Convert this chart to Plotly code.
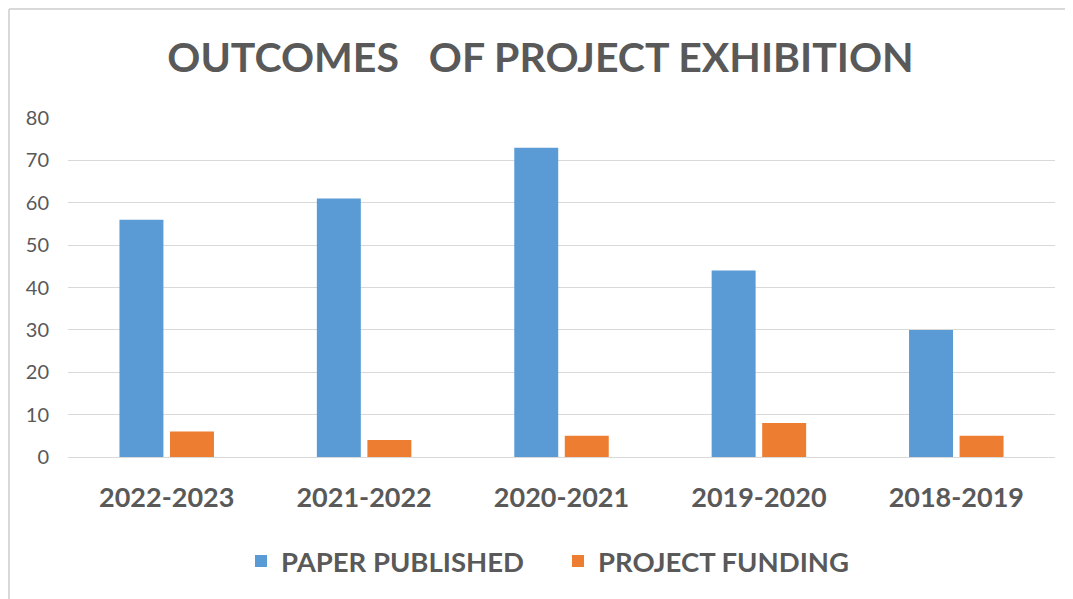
import plotly.graph_objects as go

categories = ["2022-2023", "2021-2022", "2020-2021", "2019-2020", "2018-2019"]
paper_published = [56, 61, 73, 44, 30]
project_funding = [6, 4, 5, 8, 5]
y_ticks = [0, 10, 20, 30, 40, 50, 60, 70, 80]

TXT = "#595959"
FONT = "Lato"

fig = go.Figure()
fig.add_trace(go.Bar(x=categories, y=paper_published, name="PAPER PUBLISHED",
                     marker=dict(color="#5B9BD5", line=dict(width=0))))
fig.add_trace(go.Bar(x=categories, y=project_funding, name="PROJECT FUNDING",
                     marker=dict(color="#ED7D31", line=dict(width=0))))

# page has an 8px body margin; figure coords = reference coords - 8
OFF = 8
W, H = 1073 - OFF, 599 - OFF
L, T = 68 - OFF, 118 - OFF
R = W - (1055 - OFF)
B = H - (457 - OFF)
pw, ph = W - L - R, H - T - B

def fx(px):
    return (px - OFF - L) / pw

def fy(py):
    return 1 - (py - OFF - T) / ph

fig.update_layout(
    width=W, height=H,
    margin=dict(l=L, r=R, t=T, b=B),
    paper_bgcolor="white", plot_bgcolor="white",
    barmode="group", bargap=0.488, bargroupgap=0.13,
    title=dict(text="<b>OUTCOMES   OF PROJECT EXHIBITION</b>", x=0.5, xanchor="center",
               y=1 - (58 - OFF) / H, yanchor="middle",
               font=dict(family=FONT, size=41, color=TXT)),
    font=dict(family=FONT, color=TXT),
    legend=dict(orientation="h", x=fx(558), xanchor="center",
                y=fy(561), yanchor="middle",
                font=dict(family=FONT, size=27.5, color=TXT, weight="bold"),
                itemwidth=30, entrywidth=272, bgcolor="rgba(0,0,0,0)"),
    xaxis=dict(showgrid=False, showline=False, ticks="",
               tickfont=dict(family=FONT, size=27, color=TXT, weight="bold"),
               ticklabelstandoff=22),
    yaxis=dict(range=[0, 80], tickvals=y_ticks, showgrid=True, gridcolor="#D9D9D9",
               gridwidth=1, zeroline=True, zerolinecolor="#D9D9D9", zerolinewidth=1,
               showline=False, ticks="",
               tickfont=dict(family=FONT, size=20, color=TXT),
               ticklabelstandoff=18),
    shapes=[
        dict(type="line", xref="paper", yref="paper",
             x0=fx(9), x1=fx(1080), y0=fy(9), y1=fy(9),
             line=dict(color="#D9D9D9", width=2)),
        dict(type="line", xref="paper", yref="paper",
             x0=fx(9), x1=fx(9), y0=fy(9), y1=fy(610),
             line=dict(color="#D9D9D9", width=2)),
    ],
)

fig.write_html("out.html")
